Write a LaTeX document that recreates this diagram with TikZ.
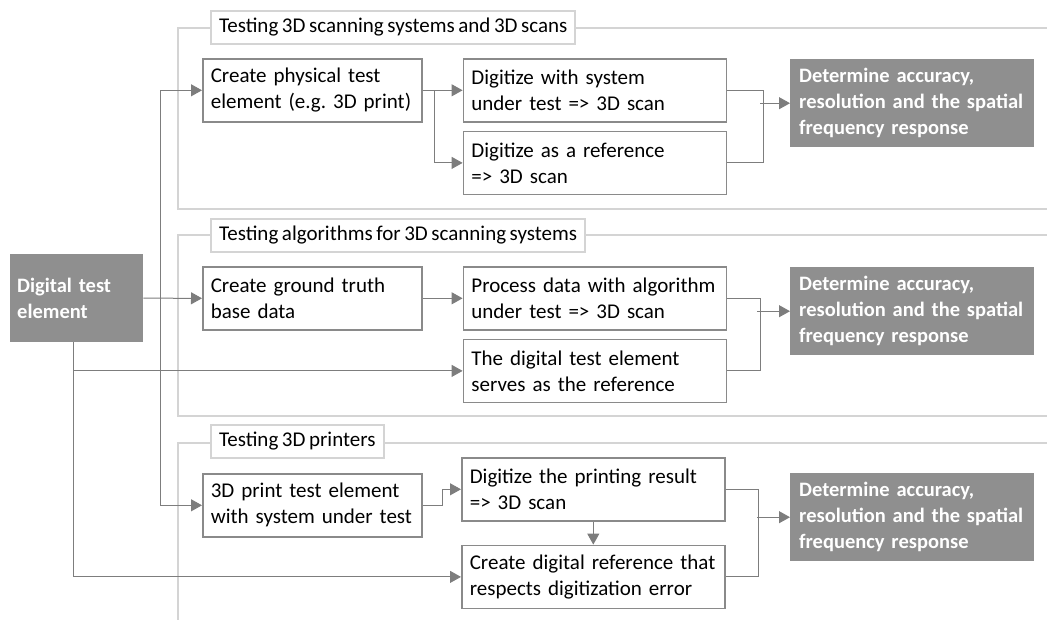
\documentclass[tikz,border=0pt]{standalone}
\usepackage{fontspec}
\setmainfont{Carlito}[WordSpace=0.75]
\usepackage{tikz}
\usetikzlibrary{positioning,arrows.meta}
\definecolor{boxfill}{RGB}{143,143,143}
\definecolor{boxline}{RGB}{138,138,138}
\definecolor{framegrey}{RGB}{212,212,212}
\definecolor{linegrey}{RGB}{125,125,125}
\hyphenpenalty=10000

\begin{document}
\begin{tikzpicture}[x=1pt,y=-1pt,
    every node/.style={font=\fontsize{21}{26}\selectfont},
    >={Triangle[length=11pt,width=12pt]},
    frame/.style={draw=framegrey,line width=2pt},
    title/.style={draw=framegrey,line width=2pt,fill=white,anchor=north west,
      inner xsep=8pt,minimum height=33pt},
    box/.style={draw=boxline,line width=1.6pt,fill=white,align=left,
      anchor=north west,inner xsep=8pt,minimum height=63pt},
    col1/.style={box,text width=203pt},
    col2/.style={box,text width=247pt},
    result/.style={fill=boxfill,text=white,align=left,anchor=north west,
      inner xsep=9pt,text width=226pt,minimum height=88pt,
      font=\fontsize{20.5}{26}\selectfont\bfseries},
    conn/.style={draw=linegrey,line width=1pt}]
      \useasboundingbox (0,0) rectangle (1047,620);

      \draw[frame] (1047,28) -- (178,28) -- (178,209) -- (1047,209);
      \draw[frame] (1047,235) -- (178,235) -- (178,416) -- (1047,416);
      \draw[frame] (1047,443) -- (178,443) -- (178,622);

      \node[title] (t1) at (210,10) {Testing 3D scanning systems and 3D scans};
      \node[title] (t2) at (210,218) {Testing algorithms for 3D scanning systems};
      \node[title] (t3) at (210,424) {Testing 3D printers};

      \node[result,text width=119pt,inner xsep=7pt] (1) at (10,254) {Digital test\\element};

      \node[col1] (2) at (202,58) {Create physical test\\element (e.g.\ 3D print)};
      \node[col2,right=40pt of 2] (3) {Digitize with system\\under test => 3D scan};
      \node[col2,below=8pt of 3] (4) {Digitize as a reference\\=> 3D scan};
      \node[result] (5) at (790,59) {Determine accuracy,\\resolution and the spatial\\frequency response};

      \node[col1] (6) at (202,266) {Create ground truth\\base data};
      \node[col2,right=40pt of 6] (7) {Process data with algorithm\\under test => 3D scan};
      \node[col2,below=8pt of 7] (8) {The digital test element\\serves as the reference};
      \node[result] (9) at (790,267) {Determine accuracy,\\resolution and the spatial\\frequency response};

      \node[col1] (10) at (202,473) {3D print test element\\with system under test};
      \node[col2] (11) at (461,457) {Digitize the printing result\\=> 3D scan};
      \node[col2,below=23pt of 11] (12) {Create digital reference that\\respects digitization error};
      \node[result] (13) at (790,473) {Determine accuracy,\\resolution and the spatial\\frequency response};

      \draw[conn,->] (1.east) -- (6.west);
      \draw[conn,<->] (2.west) -- ++(-42,0) |- (10.west);
      \draw[conn,->] ([xshift=-3pt]1.south) |- (12.west);
      \draw[conn,->] ([xshift=-3pt]1.south |- 8.west) -- (8.west);

      \draw[conn,->] (2.east) -- (3.west);
      \draw[conn,->] (2.east) -- ++(12,0) |- (4.west);
      \draw[conn] (3.east) -- ++(36,0) |- (4.east);
      \draw[conn,->] ([xshift=-30pt]5.west) -- (5.west);

      \draw[conn,->] (6.east) -- (7.west);
      \draw[conn] (7.east) -- ++(33,0) |- (8.east);
      \draw[conn,->] ([xshift=-33pt]9.west) -- (9.west);

      \draw[conn,->] (10.east) -- ++(20,0) |- (11.west);
      \draw[conn,->] (11.south) -- (12.north);
      \draw[conn] (11.east) -- ++(33,0) |- (12.east);
      \draw[conn,->] ([xshift=-33pt]13.west) -- (13.west);
    \end{tikzpicture}
\end{document}
